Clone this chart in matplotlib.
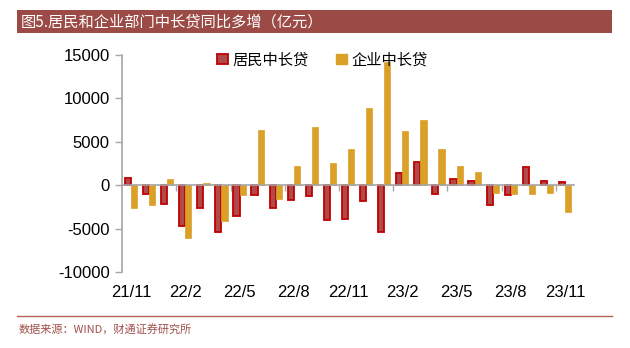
import numpy as np
import matplotlib
matplotlib.use('Agg')
from matplotlib import pyplot as plt
from matplotlib.patches import Rectangle
from matplotlib.lines import Line2D

plt.rcParams['font.family'] = ['Noto Sans CJK SC', 'DejaVu Sans']

# month labels, 21/11 .. 23/11
months = ['21/11', '21/12', '22/1', '22/2', '22/3', '22/4', '22/5', '22/6', '22/7',
          '22/8', '22/9', '22/10', '22/11', '22/12', '23/1', '23/2', '23/3', '23/4',
          '23/5', '23/6', '23/7', '23/8', '23/9', '23/10', '23/11']
# 居民中长贷 yoy change (亿元)
household = [850, -950, -2100, -4730, -2600, -5380, -3500, -1080, -2600, -1700,
             -1270, -3960, -3850, -1800, -5380, 1430, 2700, -960, 740, 540,
             -2230, -1150, 2120, 460, 350]
# 企业中长贷 yoy change (亿元)
corporate = [-2600, -2230, 740, -6080, 270, -4080, -1110, 6310, -1610, 2270,
             6700, 2580, 4120, 8930, 14200, 6230, 7470, 4200, 2270, 1550,
             -850, -1040, -1040, -920, -3070]
label_every = 3
yticks = [-10000, -5000, 0, 5000, 10000, 15000]

RED_EDGE = '#C00000'
RED_FILL = '#B04A4A'
GOLD = '#DAA028'
GRAY = '#A6A6A6'
TITLE_BG = '#9B4A45'

fig = plt.figure(figsize=(6.3, 3.48), dpi=100)
ax = fig.add_axes([0.1937, 0.218, 0.7175, 0.624])

x = np.arange(len(months))
w = 0.34
ax.bar(x - w / 2, household, width=w, color=RED_FILL, edgecolor=RED_EDGE,
       linewidth=1.3, label='居民中长贷', zorder=3)
ax.bar(x + w / 2, corporate, width=w, color=GOLD, edgecolor=GOLD,
       linewidth=0.5, label='企业中长贷', zorder=3)

ax.set_xlim(-0.5, len(months) - 0.5)
ax.set_ylim(yticks[0], yticks[-1])

# y axis
ax.set_yticks(yticks)
ax.set_yticklabels([str(v) for v in yticks], family='Liberation Sans', fontsize=12)
ax.tick_params(axis='y', direction='out', length=5, color=GRAY, width=1, pad=4)
for s in ['top', 'right']:
    ax.spines[s].set_visible(False)
ax.spines['left'].set_color(GRAY)
ax.spines['left'].set_linewidth(1.2)

# x axis drawn at zero, ticks between groups every 3 months
ax.spines['bottom'].set_position(('data', 0))
ax.spines['bottom'].set_color(GRAY)
ax.spines['bottom'].set_linewidth(1.2)
ax.spines['bottom'].set_zorder(4)
ax.set_xticks(x[label_every - 1:-1:label_every] + 0.5)
ax.set_xticklabels([])
ax.tick_params(axis='x', direction='out', length=4, color=GRAY, width=1)

xt = ax.get_xaxis_transform()
for i in x[::label_every]:
    ax.text(i, -0.092, months[i], transform=xt, ha='center', va='center',
            family='Liberation Sans', fontsize=12)

handles = [Rectangle((0, 0), 1, 1, facecolor=RED_FILL, edgecolor=RED_EDGE, linewidth=1.3),
           Rectangle((0, 0), 1, 1, facecolor=GOLD, edgecolor=GOLD)]
ax.legend(handles, ['居民中长贷', '企业中长贷'], loc='upper left',
          bbox_to_anchor=(0.18, 1.08), ncol=2, frameon=False, fontsize=11,
          handlelength=0.7, handleheight=0.7, handletextpad=0.3, columnspacing=1.8)

# title band
fig.patches.append(Rectangle((0.027, 0.905), 0.944, 0.066, transform=fig.transFigure,
                             facecolor=TITLE_BG, edgecolor='none'))
fig.text(0.033, 0.938, '图5.居民和企业部门中长贷同比多增（亿元）', color='white',
         fontsize=11, va='center', ha='left')

# footer
fig.lines.append(Line2D([0.027, 0.971], [0.092, 0.092], transform=fig.transFigure,
                        color='#B5615A', linewidth=1))
fig.text(0.03, 0.053, '数据来源：WIND，财通证券研究所', color='#A0504A',
         fontsize=8, va='center', ha='left')

fig.savefig('out.png', dpi=100)
